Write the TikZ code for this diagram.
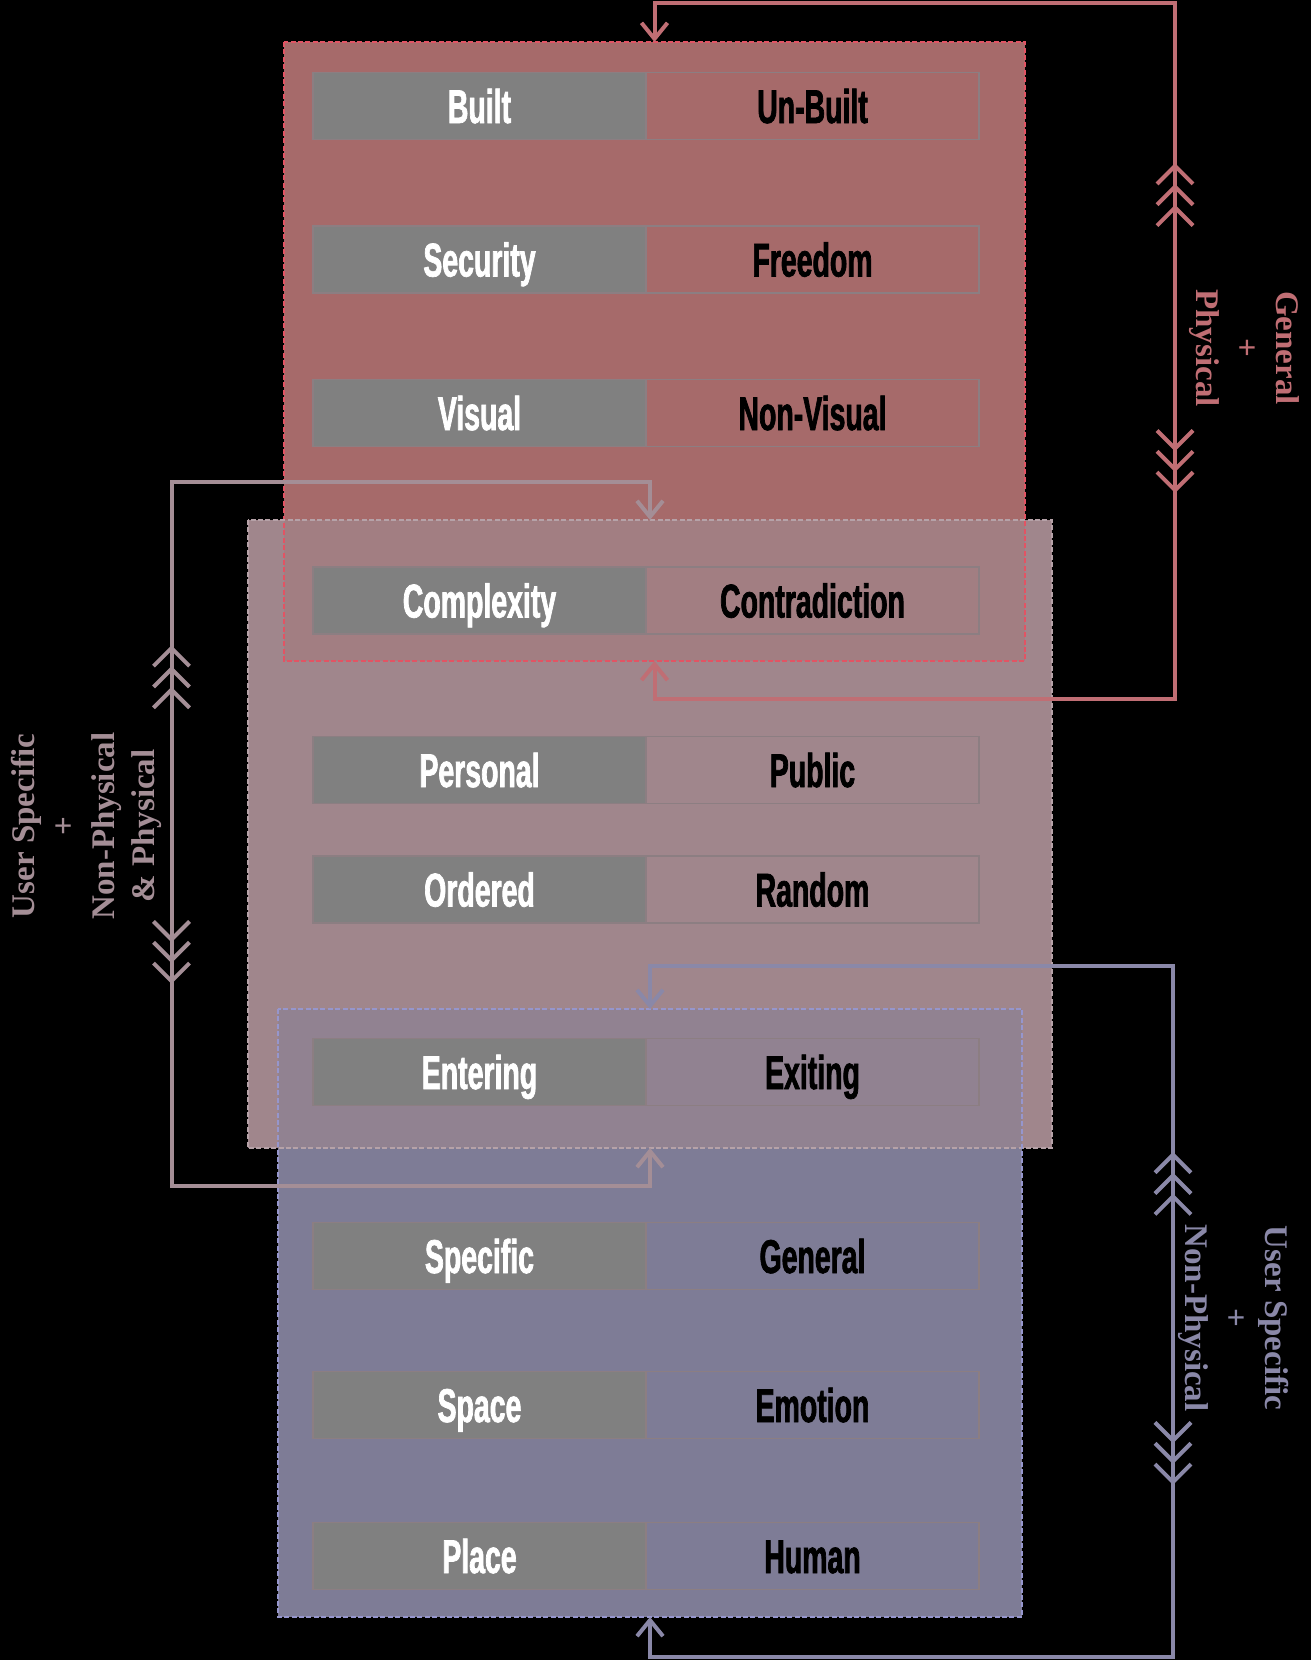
\documentclass[tikz,border=0pt]{standalone}
\usepackage{fontspec}
\setmainfont{Liberation Serif}
\newfontfamily\pairfont[FakeStretch=0.6,FakeBold=1.5]{Liberation Sans}
\usetikzlibrary{arrows.meta,positioning,decorations.markings}

\definecolor{gpfill}{RGB}{166,106,106}
\definecolor{midfill}{RGB}{160,134,140}
\definecolor{usfill}{RGB}{126,124,150}
\definecolor{gpline}{RGB}{226,84,100}
\definecolor{midline}{RGB}{182,162,168}
\definecolor{usline}{RGB}{150,150,205}
\definecolor{gplink}{RGB}{192,110,116}
\definecolor{midlink}{RGB}{164,142,150}
\definecolor{uslink}{RGB}{138,136,168}
\definecolor{pairgrey}{RGB}{128,128,128}
\definecolor{pairedge}{RGB}{140,126,130}

\tikzset{
  chevron/.tip={Straight Barb[length=9pt,width=18pt,sep=-1pt] Straight Barb[length=9pt,width=18pt,sep=-1pt] Straight Barb[length=9pt,width=18pt]},
  zone/.style={inner sep=0pt, outer sep=0pt},
  zoneedge/.style={line width=0.9pt, dash pattern=on 2.5pt off 1.2pt},
  keybox/.style={fill=pairgrey, draw=pairedge, line width=0.6pt, minimum width=166.5pt, minimum height=33.5pt,
    inner sep=0pt, outer sep=0pt, text height=17pt, text depth=0pt, text=white,
    font=\pairfont\bfseries\fontsize{23.7}{26}\selectfont},
  pairbox/.style={keybox, fill=none, text=black},
  link/.style={line width=2pt, {Straight Barb[length=8pt,width=13pt]}-{Straight Barb[length=8pt,width=13pt]}},
  side/.style={font=\bfseries\fontsize{16.5}{20}\selectfont, align=center}
}

\begin{document}
\begin{tikzpicture}[x=0.5pt,y=-0.5pt]
  \useasboundingbox (0,0) rectangle (1311,1660);
  \fill[black] (0,0) rectangle (1311,1660);

  % the three zones
  \node[zone, fill=gpfill, minimum width=370.5pt, minimum height=309.5pt] (gp) at (654.5,351.5) {};
  \node[zone, fill=midfill, minimum width=402pt, minimum height=314pt] (mid) at (650,834) {};
  \node[zone, fill=usfill, minimum width=372pt, minimum height=304pt] (us) at (650,1313) {};
  \fill[midfill!70!gpfill] (gp.south west |- mid.north) rectangle (gp.south east);
  \fill[midfill!55!usfill] (us.north west) rectangle (us.east |- mid.south);
  \draw[zoneedge, gpline] (gp.north west) rectangle (gp.south east);
  \draw[zoneedge, midline] (mid.north west) rectangle (mid.south east);
  \draw[zoneedge, usline] (us.north west) rectangle (us.south east);

  % pairs
  \node[keybox] (built) at (479.5,106) {Built};
  \node[pairbox, right=0pt of built] (unbuilt) {Un-Built};
  \node[keybox] (security) at (479.5,259.5) {Security};
  \node[pairbox, right=0pt of security] (freedom) {Freedom};
  \node[keybox] (visual) at (479.5,413) {Visual};
  \node[pairbox, right=0pt of visual] (nonvisual) {Non-Visual};
  \node[keybox] (complexity) at (479.5,600.5) {Complexity};
  \node[pairbox, right=0pt of complexity] (contradiction) {Contradiction};
  \node[keybox] (personal) at (479.5,770) {Personal};
  \node[pairbox, right=0pt of personal] (public) {Public};
  \node[keybox] (ordered) at (479.5,889.5) {Ordered};
  \node[pairbox, right=0pt of ordered] (random) {Random};
  \node[keybox] (entering) at (479.5,1072) {Entering};
  \node[pairbox, right=0pt of entering] (exiting) {Exiting};
  \node[keybox] (specific) at (479.5,1256) {Specific};
  \node[pairbox, right=0pt of specific] (general) {General};
  \node[keybox] (space) at (479.5,1405) {Space};
  \node[pairbox, right=0pt of space] (emotion) {Emotion};
  \node[keybox] (place) at (479.5,1556) {Place};
  \node[pairbox, right=0pt of place] (human) {Human};

  % loops round each zone
  \coordinate (gptop) at (1175,3);
  \coordinate (gpbot) at (1175,699);
  \draw[gplink, link] (gp.south) |- (gpbot) -- (gptop) -| (gp.north);
  \draw[gplink, line width=2pt, postaction={decorate}, decoration={markings,
      mark=at position 0.77 with {\arrow{chevron}},
      mark=at position 0.296 with {\arrowreversed{chevron}}}] (gpbot) -- (gptop);

  \coordinate (midtop) at (171.5,482);
  \coordinate (midbot) at (171.5,1186);
  \draw[midlink, link] (mid.north) |- (midtop) -- (midbot) -| (mid.south);
  \draw[midlink, line width=2pt, postaction={decorate}, decoration={markings,
      mark=at position 0.713 with {\arrow{chevron}},
      mark=at position 0.232 with {\arrowreversed{chevron}}}] (midtop) -- (midbot);

  \coordinate (ustop) at (1173,966);
  \coordinate (usbot) at (1173,1657);
  \draw[uslink, link] (us.north) |- (ustop) -- (usbot) -| (us.south);
  \draw[uslink, line width=2pt, postaction={decorate}, decoration={markings,
      mark=at position 0.751 with {\arrow{chevron}},
      mark=at position 0.269 with {\arrowreversed{chevron}}}] (ustop) -- (usbot);

  % side labels
  \node[side, text=gplink, rotate=-90] (gplabel) at (1244,348) {General\\+\\Physical};
  \node[side, text=midlink, rotate=90] (midlabel) at (86,826) {User Specific\\+\\Non-Physical\\\& Physical};
  \node[side, text=uslink, rotate=-90] (uslabel) at (1234,1318) {User Specific\\+\\Non-Physical};
\end{tikzpicture}
\end{document}
